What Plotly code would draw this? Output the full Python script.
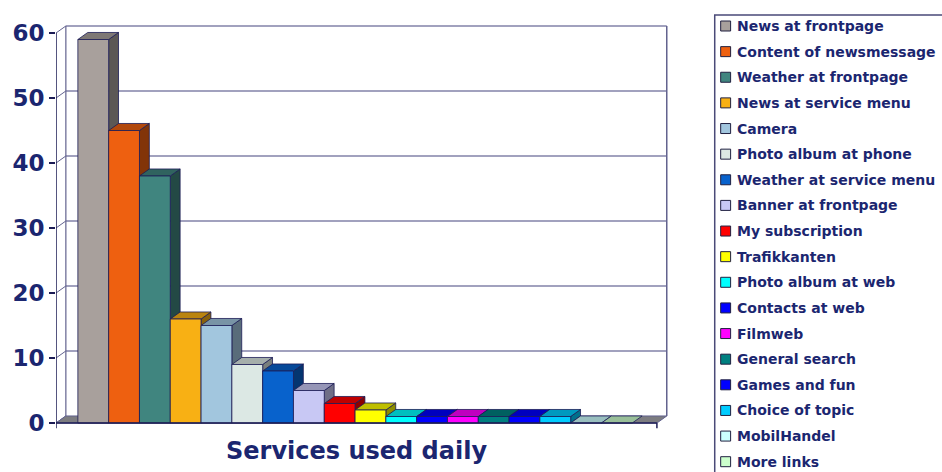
import plotly.graph_objects as go

# ---- data -------------------------------------------------------------
services = [
    "News at frontpage", "Content of newsmessage", "Weather at frontpage",
    "News at service menu", "Camera", "Photo album at phone",
    "Weather at service menu", "Banner at frontpage", "My subscription",
    "Trafikkanten", "Photo album at web", "Contacts at web", "Filmweb",
    "General search", "Games and fun", "Choice of topic", "MobilHandel",
    "More links",
]
daily_use = [59, 45, 38, 16, 15, 9, 8, 5, 3, 2, 1, 1, 1, 1, 1, 1, 0, 0]
bar_colors = [
    "#a8a09c", "#ee6010", "#40857f", "#f8b014", "#a2c6de", "#dce8e4",
    "#0862cc", "#c8c8f4", "#ff0000", "#ffff00", "#00ffff", "#0000ff",
    "#ff00ff", "#008080", "#0000ff", "#00ccff", "#ccffff", "#ccffcc",
]
y_ticks = [0, 10, 20, 30, 40, 50, 60]
category_label = "Services used daily"

# ---- geometry / style -------------------------------------------------
W, H = 942, 472
ML, MR, MT, MB = 52, 270, 20, 40
X_RANGE = [-1.21, 18.79]
Y_RANGE = [-1.385, 62.0]
DX, DY = 0.32, 1.08          # depth offset of the 3-D boxes and walls
X_LEFT = X_RANGE[0]          # front-left corner of the floor
FLOOR_R = 18.30              # front-right corner of the floor
Y_TOP = y_ticks[-1]
INK = "#1b2670"
OUTLINE = "#1c1c55"
GRID = "#44447e"
WALL = "#62628e"
FONT = "DejaVu Sans"

PW = W - ML - MR
PH = H - MT - MB


def px_x(px):
    return (px - ML) / PW


def px_y(py):
    return (H - MB - py) / PH


def shade(hex_color, f):
    h = hex_color.lstrip("#")
    r, g, b = (int(h[i:i + 2], 16) for i in (0, 2, 4))
    return "#%02x%02x%02x" % (int(r * f), int(g * f), int(b * f))


fig = go.Figure()


def polygon(xs, ys, fill, line_color=OUTLINE, width=0.8):
    fig.add_trace(go.Scatter(
        x=xs + [xs[0]], y=ys + [ys[0]], mode="lines", fill="toself",
        fillcolor=fill, line=dict(color=line_color, width=width),
        hoverinfo="skip", showlegend=False,
    ))


shapes = []

# back wall gridlines and the side edges of the walls
for v in y_ticks[1:]:
    shapes.append(dict(type="line", xref="x", yref="y", layer="below",
                       x0=X_LEFT + DX, y0=v + DY, x1=FLOOR_R + DX, y1=v + DY,
                       line=dict(color=GRID, width=1.2)))
for v in y_ticks:
    shapes.append(dict(type="line", xref="x", yref="y", layer="below",
                       x0=X_LEFT, y0=v, x1=X_LEFT + DX, y1=v + DY,
                       line=dict(color=WALL, width=1)))
shapes.append(dict(type="line", xref="x", yref="y", layer="below",
                   x0=X_LEFT + DX, y0=DY, x1=X_LEFT + DX, y1=Y_TOP + DY,
                   line=dict(color=WALL, width=1.2)))
shapes.append(dict(type="line", xref="x", yref="y", layer="below",
                   x0=FLOOR_R + DX, y0=DY, x1=FLOOR_R + DX, y1=Y_TOP + DY,
                   line=dict(color=WALL, width=1.5)))

# floor
polygon([X_LEFT, FLOOR_R, FLOOR_R + DX, X_LEFT + DX], [0, 0, DY, DY],
        "#7c7c80", line_color=WALL, width=1)

# 3-D bars, drawn left to right so each box hides the side of its neighbour
for i, (v, c) in enumerate(zip(daily_use, bar_colors)):
    x0, x1 = i - 0.5, i + 0.5
    if v > 0:
        polygon([x1, x1 + DX, x1 + DX, x1], [0, DY, v + DY, v], shade(c, 0.55))
    polygon([x0, x1, x1 + DX, x0 + DX], [v, v, v + DY, v + DY], shade(c, 0.75))
    if v > 0:
        polygon([x0, x1, x1, x0], [0, 0, v, v], c)

# front axis lines and category ticks
shapes.append(dict(type="line", xref="x", yref="y", x0=X_LEFT, y0=0,
                   x1=X_LEFT, y1=Y_TOP, line=dict(color=OUTLINE, width=1.5)))
shapes.append(dict(type="line", xref="x", yref="y", x0=X_LEFT, y0=0,
                   x1=FLOOR_R, y1=0, line=dict(color=OUTLINE, width=1.5)))
for xe in (X_LEFT, FLOOR_R):
    shapes.append(dict(type="line", xref="x", yref="y", x0=xe, y0=0,
                       x1=xe, y1=-0.8, line=dict(color=OUTLINE, width=1.5)))

annotations = [dict(
    text=category_label, xref="paper", yref="paper",
    x=px_x(354), y=px_y(451), xanchor="center", yanchor="middle",
    showarrow=False, font=dict(family=FONT, size=24, color=INK, weight="bold"),
)]

# legend box with coloured keys
shapes.append(dict(type="rect", xref="paper", yref="paper",
                   x0=px_x(715), y0=px_y(15), x1=px_x(990), y1=px_y(520),
                   line=dict(color="#4a4a78", width=1.5)))
step = (461.7 - 26.0) / (len(services) - 1)
for k, (name, c) in enumerate(zip(services, bar_colors)):
    cy = 26.0 + k * step
    shapes.append(dict(type="rect", xref="paper", yref="paper",
                       x0=px_x(721), x1=px_x(731), y0=px_y(cy + 5), y1=px_y(cy - 5),
                       fillcolor=c, line=dict(color="#202040", width=1)))
    annotations.append(dict(
        text=name, xref="paper", yref="paper", x=px_x(735), y=px_y(cy),
        xanchor="left", yanchor="middle", showarrow=False,
        font=dict(family=FONT, size=14, color=INK, weight="bold"),
    ))

fig.update_layout(
    width=W, height=H,
    margin=dict(l=ML, r=MR, t=MT, b=MB),
    paper_bgcolor="white", plot_bgcolor="white",
    showlegend=False,
    shapes=shapes, annotations=annotations,
    xaxis=dict(range=X_RANGE, visible=False, fixedrange=True),
    yaxis=dict(range=Y_RANGE, tickvals=y_ticks, ticks="outside", ticklen=6,
               tickwidth=1.5, tickcolor=OUTLINE, showgrid=False,
               zeroline=False, showline=False, fixedrange=True,
               tickfont=dict(family=FONT, size=23, color=INK, weight="bold")),
)

fig.write_html("out.html")
